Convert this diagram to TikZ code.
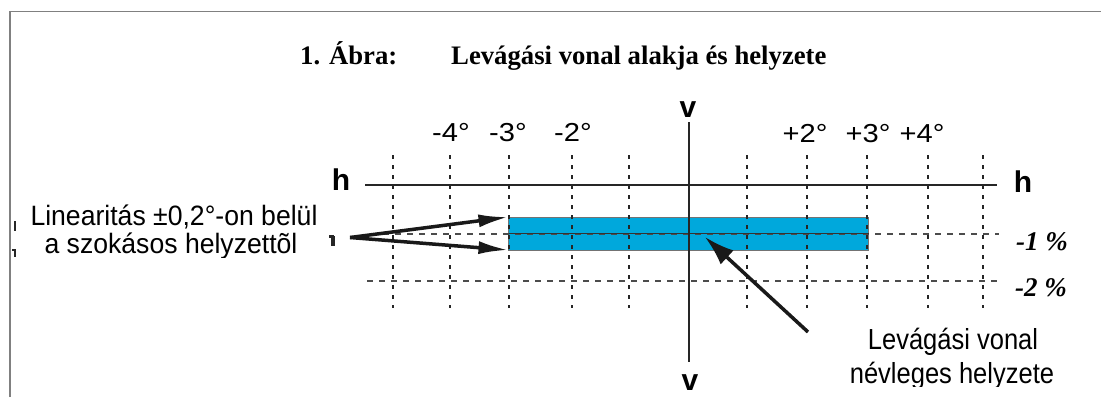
\documentclass[tikz,border=0pt]{standalone}
\usepackage{fontspec}
\setmainfont{Liberation Serif}
\newfontfamily\arialf{Liberation Sans}
\usetikzlibrary{arrows.meta}
\definecolor{bandblue}{HTML}{00A8DC}
\definecolor{framegray}{HTML}{808080}
\newcommand\sxx[2]{\scalebox{#1}[1]{#2}}
\begin{document}
\begin{tikzpicture}[x=1pt,y=-1pt,
  frameline/.style={draw=framegray,line width=1.5pt},
  axisline/.style={draw=black!85,line width=2pt},
  gridline/.style={draw=black!85,line width=2pt,dash pattern=on 3.5pt off 6.5pt},
  levelline/.style={draw=black!70,line width=1.6pt,dash pattern=on 6pt off 6pt},
  bigarrow/.style={draw=black!90,line width=3.5pt,-{Latex[length=30pt,width=13pt]}},
  bigarrowb/.style={draw=black!90,line width=3.5pt,-{Latex[length=30pt,width=19pt]}},
  titlefont/.style={anchor=base west,inner sep=0pt,font=\fontsize{26.7}{30}\selectfont\bfseries},
  deglab/.style={anchor=base,inner sep=0pt,font=\arialf\fontsize{26}{30}\selectfont},
  axlab/.style={anchor=base,inner sep=0pt,font=\arialf\bfseries\fontsize{30}{34}\selectfont},
  pctlab/.style={anchor=base west,inner sep=0pt,font=\fontsize{27}{30}\selectfont\bfseries\itshape},
  notelab/.style={anchor=base,inner sep=0pt,font=\arialf\fontsize{28}{32}\selectfont},
  notelabb/.style={anchor=base,inner sep=0pt,font=\arialf\fontsize{29}{33}\selectfont},
  frag/.style={fill=black!85,draw=none}
]
\useasboundingbox (0,0) rectangle (1101,397);
\fill[white] (0,0) rectangle (1101,397);

% frame
\draw[frameline] (10,397) -- (10,11.5) -- (1101,11.5);

% title
\node[titlefont] (fignum) at (300,64) {1. Ábra:};
\node[titlefont] (title) at (451,64) {Levágási vonal alakja és helyzete};

% band
\node[draw=black!55,line width=0.8pt,fill=bandblue,minimum width=360pt,minimum height=33pt,inner sep=0pt,outer sep=0pt,anchor=north west] (band) at (508.5,217) {};

% dotted grid
\foreach \gx in {393,450,509,572,629,747,807,867,928,983}
  \draw[gridline] (\gx,155) -- (\gx,308);

% level lines
\draw[levelline] (383,234) -- (999,234);
\draw[levelline] (367,281) -- (999,281);
\draw[draw=black!80,line width=1.4pt] (band.west) -- (band.east);

% axes
\draw[axisline] (365,185) -- (997,185);
\draw[axisline,line width=2.4pt] (689,122) -- (689,362);

% axis labels
\node[axlab] (hl) at (341,190) {h};
\node[axlab] (hr) at (1023,192) {h};
\node[axlab] (vt) at (688,117) {v};
\node[axlab] (vb) at (690,390) {v};

% degree labels
\node[deglab] (dm4) at (451,141) {\sxx{1.12}{-4°}};
\node[deglab] (dm3) at (508,141) {\sxx{1.12}{-3°}};
\node[deglab] (dm2) at (573,141) {\sxx{1.12}{-2°}};
\node[deglab] (dp2) at (805,142) {\sxx{1.12}{+2°}};
\node[deglab] (dp3) at (868,142) {\sxx{1.12}{+3°}};
\node[deglab] (dp4) at (922,142) {\sxx{1.12}{+4°}};

% percent labels
\node[pctlab] (p1) at (1016,250) {-1 \%};
\node[pctlab] (p2) at (1015,296) {-2 \%};

% left note
\node[notelab] (lin1) at (174,225) {\sxx{0.95}{Linearitás ±0,2°-on belül}};
\node[notelab] (lin2) at (171,253) {\sxx{0.95}{a szokásos helyzettõl}};
\fill[white] (20,258) rectangle (330,266);
\coordinate (lt) at (350,237.5);
\draw[bigarrow] (lt) -- (band.north west);
\draw[bigarrow] (lt) -- (band.south west);

% fragments of covered text
\fill[frag] (13.5,221) rectangle (16,231);
\fill[frag] (13.5,249) rectangle (16,257);
\fill[frag] (12,249) rectangle (16,251);
\fill[frag] (331,236) rectangle (335,246);
\fill[frag] (329,235) rectangle (334,237.5);

% right note
\node[notelabb] (lev1) at (953,349) {\sxx{0.88}{Levágási vonal}};
\node[notelabb] (lev2) at (952,383) {\sxx{0.88}{névleges helyzete}};
\fill[white] (840,386.5) rectangle (1070,397);
\coordinate (levtail) at (808,332);
\coordinate (nom) at (705,237);
\draw[bigarrowb] (levtail) -- (nom);
\end{tikzpicture}
\end{document}
